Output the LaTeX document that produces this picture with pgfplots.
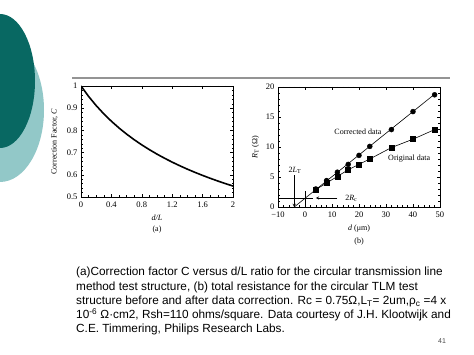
\documentclass[border=0pt]{standalone}
\usepackage{pgfplots}
\pgfplotsset{compat=1.18}
\usepackage{fontspec}
\setmainfont{Liberation Sans}
\newfontfamily\serif{Liberation Serif}
\definecolor{darkteal}{RGB}{8,104,98}
\definecolor{lightteal}{RGB}{146,200,200}
\begin{document}
\begin{tikzpicture}[x=1pt,y=1pt]
\useasboundingbox (0,0) rectangle (474,355);
\fill[white] (0,0) rectangle (474,355);
\begin{scope}
\clip (0,0) rectangle (474,355);
\fill[lightteal] (0,245) ellipse [x radius=44, y radius=72];
\fill[darkteal] (0,274) ellipse [x radius=35, y radius=67];
\end{scope}
\draw[black!42, line width=1.5pt] (72,277) -- (450,277);

\pgfplotsset{every axis/.append style={
  scale only axis,
  tick align=inside,
  major tick length=3pt,
  minor tick length=1.5pt,
  tick style={black, line width=0.4pt},
  axis line style={black, line width=0.6pt},
  tick label style={font=\serif\fontsize{8.5}{9}\selectfont, black},
  xticklabel style={yshift=-1.5pt},
  label style={font=\serif\fontsize{8}{9}\selectfont, black},
  xlabel style={align=center},
}}

\begin{axis}[
  at={(81pt,158pt)}, anchor=south west,
  width=152pt, height=111pt,
  xmin=0, xmax=2, ymin=0.5, ymax=1,
  xtick={0,0.4,0.8,1.2,1.6,2},
  xticklabels={0,0.4,0.8,1.2,1.6,2},
  minor x tick num=3,
  ytick={0.5,0.6,0.7,0.8,0.9,1},
  yticklabels={0.5,0.6,0.7,0.8,0.9,1},
  minor y tick num=4,
  xlabel={\textit{d/L}\\[2pt](a)},
  ylabel={Correction Factor, \textit{C}},
  ylabel shift=2pt,
]
\addplot[black, line width=1.6pt, no marks] coordinates {
(0,1) (0.1,0.9531) (0.2,0.9116) (0.3,0.8745) (0.4,0.8412) (0.5,0.8109)
(0.6,0.7833) (0.7,0.7580) (0.8,0.7347) (0.9,0.7132) (1.0,0.6931)
(1.1,0.6745) (1.2,0.6570) (1.3,0.6407) (1.4,0.6253) (1.5,0.6109)
(1.6,0.5972) (1.7,0.5843) (1.8,0.5720) (1.9,0.5604) (2.0,0.5493)
};
\end{axis}

\begin{axis}[
  at={(278pt,148pt)}, anchor=south west,
  width=162pt, height=120pt,
  xmin=-10, xmax=50, ymin=0, ymax=20,
  xtick={-10,0,10,20,30,40,50},
  xticklabels={−10,0,10,20,30,40,50},
  minor x tick num=4,
  ytick={0,5,10,15,20},
  yticklabels={0,5,10,15,20},
  minor y tick num=4,
  xlabel={\textit{d} (μm)\\[4pt](b)},
  ylabel={\textit{R}\textsubscript{T} (Ω)},
  clip=false,
]
\addplot[black, line width=0.6pt, no marks] coordinates {(-4,0) (48,18.8)};
\addplot[black, only marks, mark=*, mark size=2.5pt] coordinates {
(4,3.0) (8,4.4) (12,5.8) (16,7.1) (20,8.6) (24,10.1) (32,12.9) (40,15.9) (48,18.7)
};
\addplot[black, line width=0.6pt, mark=square*, mark size=2.5pt] coordinates {
(4,2.9) (8,4.0) (12,5.1) (16,6.2) (20,7.1) (24,8.0) (32,9.9) (40,11.3) (48,12.9)
};
\draw[black, line width=0.5pt] (axis cs:-10,1.5) -- (axis cs:3,1.5);
\draw[black, line width=0.5pt] (axis cs:0,0) -- (axis cs:0,2.6);
\draw[black, line width=0.5pt, -stealth] (axis cs:12,1.5) -- (axis cs:4,1.5);
\node[anchor=west, inner sep=1pt, font=\serif\fontsize{8}{9}\selectfont] at (axis cs:14.5,1.5) {2\textit{R}\textsubscript{c}};
\draw[black, line width=0.5pt, -stealth] (axis cs:-4,5.3) -- (axis cs:-4,0);
\node[anchor=south, inner sep=1pt, font=\serif\fontsize{8}{9}\selectfont] at (axis cs:-3.7,5.3) {2\textit{L}\textsubscript{T}};
\node[font=\serif\fontsize{8}{9}\selectfont] at (axis cs:19.6,12.5) {Corrected data};
\node[font=\serif\fontsize{8}{9}\selectfont] at (axis cs:38.6,8.0) {Original data};
\end{axis}

\node[anchor=north west, align=left, inner sep=0pt, font=\fontsize{11.8}{14.3}\selectfont] at (76pt,88pt) {%
(a)Correction factor C versus d/L ratio for the circular transmission line\\
method test structure, (b) total resistance for the circular TLM test\\
structure before and after data correction. Rc = 0.75Ω,L\textsubscript{T}= 2um,ρ\textsubscript{c} =4 x\\
10\textsuperscript{-6} Ω·cm2, Rsh=110 ohms/square. Data courtesy of J.H. Klootwijk and\\
C.E. Timmering, Philips Research Labs.};
\node[font=\fontsize{7}{8}\selectfont, black!70] at (442pt,14pt) {41};
\end{tikzpicture}
\end{document}
